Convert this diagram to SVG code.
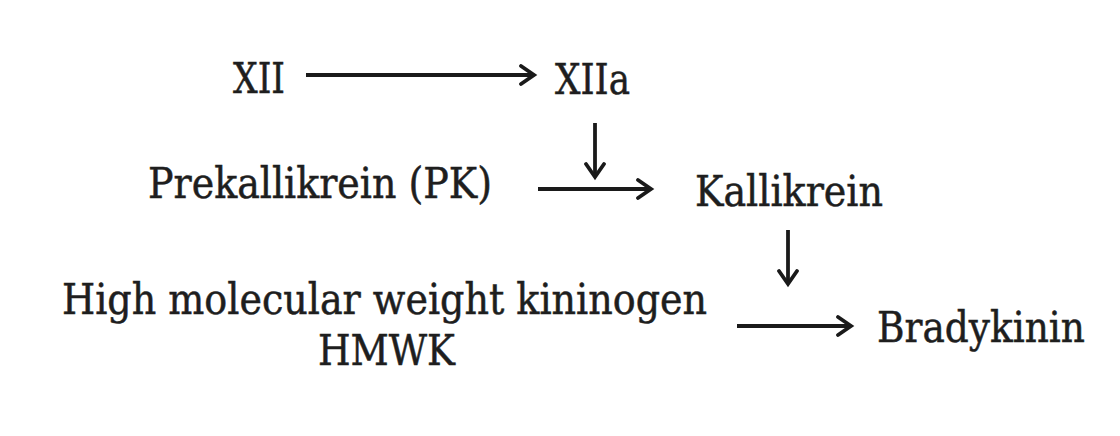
<svg xmlns="http://www.w3.org/2000/svg" width="1120" height="436" viewBox="0 0 1120 436">
<style>
text{font-family:"DejaVu Serif Condensed","DejaVu Serif","Liberation Serif",serif;font-stretch:condensed;font-size:43px;fill:#1e1e1e;stroke:#1e1e1e;stroke-width:0.5;}
.c{fill:none;stroke:#1a1a1a;stroke-width:3.8;}
</style>
<defs>
<marker id="ah" markerUnits="userSpaceOnUse" viewBox="-16 -11 20 22" refX="0" refY="0" markerWidth="20" markerHeight="22" orient="auto">
<path d="M-13,-9 L0,0 L-13,9" fill="none" stroke="#1a1a1a" stroke-width="3.8" stroke-linecap="round" stroke-linejoin="miter"/>
</marker>
</defs>
<rect width="1120" height="436" fill="#fff"/>
<g id="n-xii"><text x="233" y="93" textLength="52" lengthAdjust="spacingAndGlyphs">XII</text></g>
<g id="n-xiia"><text x="555" y="94" textLength="75" lengthAdjust="spacingAndGlyphs">XIIa</text></g>
<g id="n-pk"><text x="148" y="198" textLength="344" lengthAdjust="spacingAndGlyphs">Prekallikrein (PK)</text></g>
<g id="n-kallikrein"><text x="695" y="206" textLength="188" lengthAdjust="spacingAndGlyphs">Kallikrein</text></g>
<g id="n-hmwk"><text x="62" y="314" textLength="645" lengthAdjust="spacingAndGlyphs">High molecular weight kininogen</text><text x="318" y="365" textLength="137" lengthAdjust="spacingAndGlyphs">HMWK</text></g>
<g id="n-bradykinin"><text x="877" y="342" textLength="208" lengthAdjust="spacingAndGlyphs">Bradykinin</text></g>
<g id="connectors">
<line class="c" x1="306" y1="75" x2="534" y2="75" marker-end="url(#ah)"/>
<line class="c" x1="595" y1="123" x2="595" y2="177" marker-end="url(#ah)"/>
<line class="c" x1="538" y1="189" x2="651" y2="189" marker-end="url(#ah)"/>
<line class="c" x1="788" y1="230" x2="788" y2="284" marker-end="url(#ah)"/>
<line class="c" x1="737" y1="326" x2="851" y2="326" marker-end="url(#ah)"/>
</g>
</svg>
